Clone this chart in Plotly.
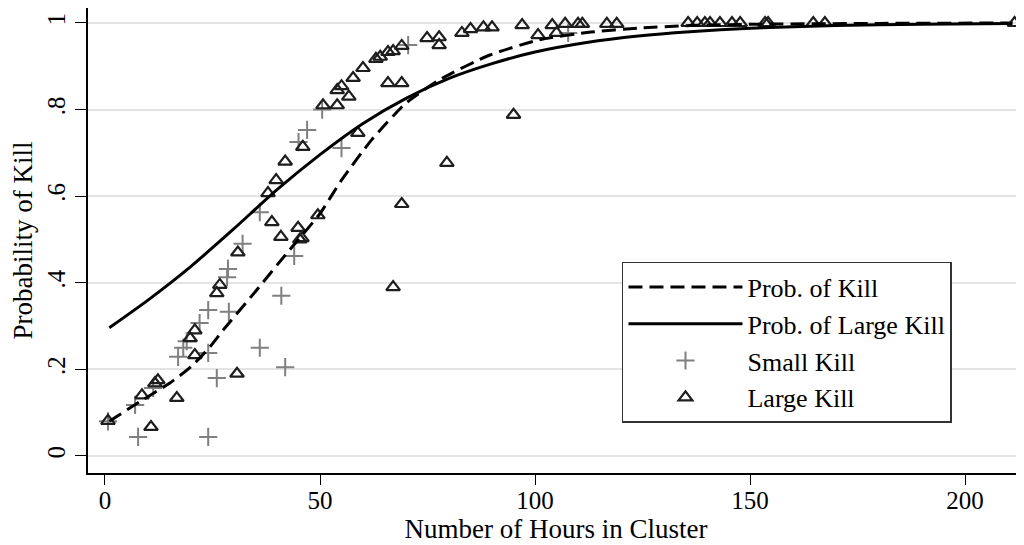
import plotly.graph_objects as go

# Fitted curves
kill_x = [1, 8, 15, 20, 24.4, 27.4, 35, 42, 50, 55, 62, 70, 78, 89.5, 101, 113, 124, 136, 150, 180, 211]
kill_y = [0.08, 0.125, 0.168, 0.206, 0.252, 0.29, 0.38, 0.465, 0.56, 0.637, 0.73, 0.815, 0.87, 0.926, 0.961, 0.979, 0.988, 0.994, 0.997, 0.999, 1.0]

large_curve_x = [1, 10, 20, 30, 40, 50, 60, 70, 80, 90, 100, 112, 124, 136, 150, 170, 190, 211]
large_curve_y = [0.296, 0.360, 0.438, 0.525, 0.615, 0.696, 0.768, 0.826, 0.872, 0.906, 0.933, 0.955, 0.970, 0.980, 0.988, 0.994, 0.997, 0.999]

# Observed points
small_x = [0.7, 7.0, 7.7, 11.2, 17.0, 18.2, 19.0, 22.0, 24.0, 24.0, 24.0, 26.0, 28.4, 28.6, 28.8,
           32.0, 36.0, 36.0, 41.0, 41.9, 44.0, 45.0, 47.0, 50.5, 55.0, 70.5, 107.7]
small_y = [0.08, 0.118, 0.044, 0.157, 0.229, 0.25, 0.265, 0.307, 0.044, 0.238, 0.337, 0.18, 0.413, 0.432, 0.333,
           0.49, 0.563, 0.25, 0.37, 0.205, 0.462, 0.725, 0.753, 0.80, 0.711, 0.949, 0.977]

large_x = [0.7, 8.6, 10.7, 11.6, 12.3, 16.7, 19.8, 20.9, 20.9, 26.0, 26.7, 30.7, 30.9, 37.9, 38.8,
           39.8, 40.9, 41.9, 44.9, 45.8, 45.3, 46.0, 49.5, 50.7, 54.0, 54.0, 55.0, 56.7, 57.7, 58.8,
           60.0, 63.0, 64.0, 65.8, 65.8, 67.0, 67.0, 69.0, 69.0, 69.0, 74.9, 77.7, 77.7, 79.5, 83.0,
           85.0, 88.0, 90.0, 95.0, 97.0, 100.7, 104.0, 105.0, 107.0, 110.0, 111.0, 116.7, 119.0,
           135.6, 137.7, 139.5, 140.7, 143.0, 145.8, 147.7, 153.5, 154.2, 164.7, 167.4, 211.5]
large_y = [0.081, 0.14, 0.067, 0.168, 0.175, 0.134, 0.272, 0.29, 0.233, 0.376, 0.395, 0.19, 0.47, 0.607, 0.54,
           0.637, 0.506, 0.68, 0.527, 0.503, 0.50, 0.714, 0.556, 0.81, 0.81, 0.845, 0.854, 0.83, 0.873, 0.746,
           0.896, 0.917, 0.922, 0.933, 0.861, 0.935, 0.39, 0.947, 0.861, 0.582, 0.965, 0.967, 0.949, 0.677, 0.977,
           0.986, 0.99, 0.99, 0.788, 0.995, 0.972, 0.995, 0.977, 0.998, 0.998, 0.998, 0.998, 0.998,
           1.0, 1.0, 1.0, 1.0, 1.0, 1.0, 1.0, 1.0, 1.0, 1.0, 1.0, 1.0]

x_ticks = [0, 50, 100, 150, 200]
y_ticks = [0, 0.2, 0.4, 0.6, 0.8, 1.0]
y_tick_labels = ["0", ".2", ".4", ".6", ".8", "1"]

FONT = "Liberation Serif"

fig = go.Figure()
fig.add_trace(go.Scatter(x=small_x, y=small_y, mode="markers", name="Small Kill", legendrank=3,
                         marker=dict(symbol="cross-thin-open", size=13, color="#808080",
                                     line=dict(width=2, color="#808080"))))
fig.add_trace(go.Scatter(x=large_x, y=large_y, mode="markers", name="Large Kill", legendrank=4,
                         marker=dict(symbol="triangle-up-open", size=12, color="#1e1e1e",
                                     line=dict(width=2.2, color="#1e1e1e"))))
fig.add_trace(go.Scatter(x=kill_x, y=kill_y, mode="lines", name="Prob. of Kill", legendrank=1,
                         line=dict(color="black", width=3, dash="14px,7px", shape="spline", smoothing=0.6)))
fig.add_trace(go.Scatter(x=large_curve_x, y=large_curve_y, mode="lines", name="Prob. of Large Kill", legendrank=2,
                         line=dict(color="black", width=3, shape="spline", smoothing=0.6)))

# page has an 8px body margin, so the figure is 8px smaller than the window
fig.update_layout(
    width=1016, height=537,
    margin=dict(l=80, r=0, t=0, b=72),
    paper_bgcolor="white", plot_bgcolor="white",
    font=dict(family=FONT, size=25, color="black"),
    showlegend=True,
    legend=dict(x=0.5705, y=0.4538, xanchor="left", yanchor="top",
                bordercolor="#333333", borderwidth=1.5, bgcolor="white",
                font=dict(family=FONT, size=26), itemwidth=114, tracegroupgap=0),
    xaxis=dict(range=[-3.95, 213.7], tickvals=x_ticks, showgrid=False, zeroline=False,
               showline=True, linecolor="black", linewidth=1.5, automargin=False,
               ticks="outside", ticklen=10, tickcolor="black", tickwidth=1.2,
               tickfont=dict(family=FONT, size=25), ticklabelstandoff=-6,
               title=dict(text="Number of Hours in Cluster", font=dict(family=FONT, size=27), standoff=0)),
    yaxis=dict(range=[-0.0393, 1.0346], tickvals=y_ticks, ticktext=y_tick_labels, tickangle=-90,
               showgrid=True, gridcolor="#e4e4e4", gridwidth=1.5, zeroline=False,
               showline=True, linecolor="black", linewidth=1.5, automargin=False,
               ticks="outside", ticklen=11, tickcolor="black", tickwidth=1.2,
               tickfont=dict(family=FONT, size=25),
               title=dict(text="Probability of Kill", font=dict(family=FONT, size=27), standoff=6)),
)

fig.write_html("out.html")
